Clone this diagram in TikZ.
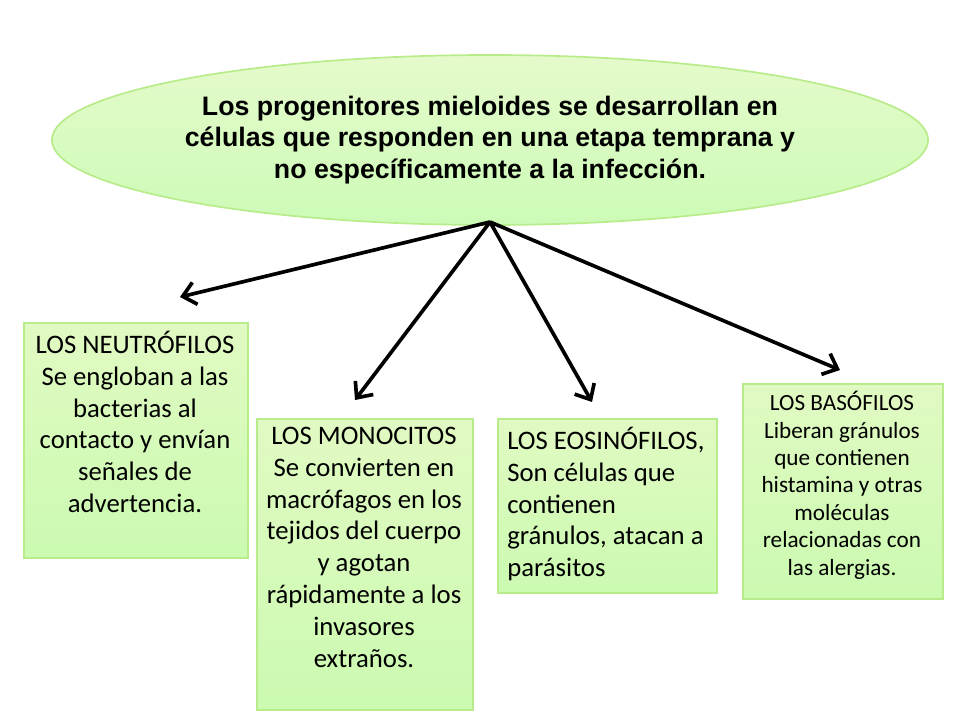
\documentclass[tikz,border=0pt]{standalone}
\usepackage{fontspec}
\setmainfont{Carlito}
\newfontfamily\arial{Liberation Sans}
\usetikzlibrary{shapes.geometric,arrows.meta}
\definecolor{gfill}{HTML}{D4F7A8}
\definecolor{gline}{HTML}{B8EC8A}
\tikzset{
 box/.style={draw=gline,line width=1.2pt,top color=white!30!gfill,bottom color=gfill!85!green!70!white,anchor=north west,inner sep=0pt},
 txt/.style={anchor=north,inner sep=0pt,font=\fontsize{19}{22.6}\selectfont},
 arr/.style={line width=2.6pt,-{Straight Barb[length=9pt,width=16pt,line width=2.6pt]}}
}
\begin{document}
\begin{tikzpicture}[x=0.025cm,y=-0.025cm]
\useasboundingbox (0,0) rectangle (960,720);
\node[ellipse,draw=gline,line width=1.2pt,top color=white!40!gfill,bottom color=gfill!80!green!60!white,minimum width=700*0.025cm,minimum height=170*0.025cm,align=center,font=\arial\bfseries\fontsize{19}{22.6}\selectfont] (top) at (490,140) {Los progenitores mieloides se desarrollan en\\células que responden en una etapa temprana y\\no específicamente a la infección.};
\coordinate (src) at (490,222);
\node[box,minimum width=224*0.025cm,minimum height=235*0.025cm] (neu) at (23,322) {};
\node[txt,align=center] (neut) at (135,331) {LOS NEUTRÓFILOS\\Se engloban a las\\bacterias al\\contacto y envían\\señales de\\advertencia.};
\node[box,minimum width=216*0.025cm,minimum height=291*0.025cm] (mon) at (256,418) {};
\node[txt,align=center] (mont) at (364,427) {LOS MONOCITOS\\Se convierten en\\macrófagos en los\\tejidos del cuerpo\\y agotan\\rápidamente a los\\invasores\\extraños.};
\node[box,minimum width=219*0.025cm,minimum height=174*0.025cm] (eos) at (497,418) {};
\node[txt,align=left,anchor=north west] (eost) at (507,427) {LOS EOSINÓFILOS,\\Son células que\\contienen\\gránulos, atacan a\\parásitos};
\node[box,minimum width=200*0.025cm,minimum height=215*0.025cm] (bas) at (742,383) {};
\node[txt,align=center,font=\fontsize{16.5}{19.5}\selectfont] (bast) at (842,391) {LOS BASÓFILOS\\Liberan gránulos\\que contienen\\histamina y otras\\moléculas\\relacionadas con\\las alergias.};
\draw[arr] (src) -- (180,297);
\draw[arr] (src) -- (355,400);
\draw[arr] (src) -- (592,402);
\draw[arr] (src) -- (840,370);
\end{tikzpicture}
\end{document}
